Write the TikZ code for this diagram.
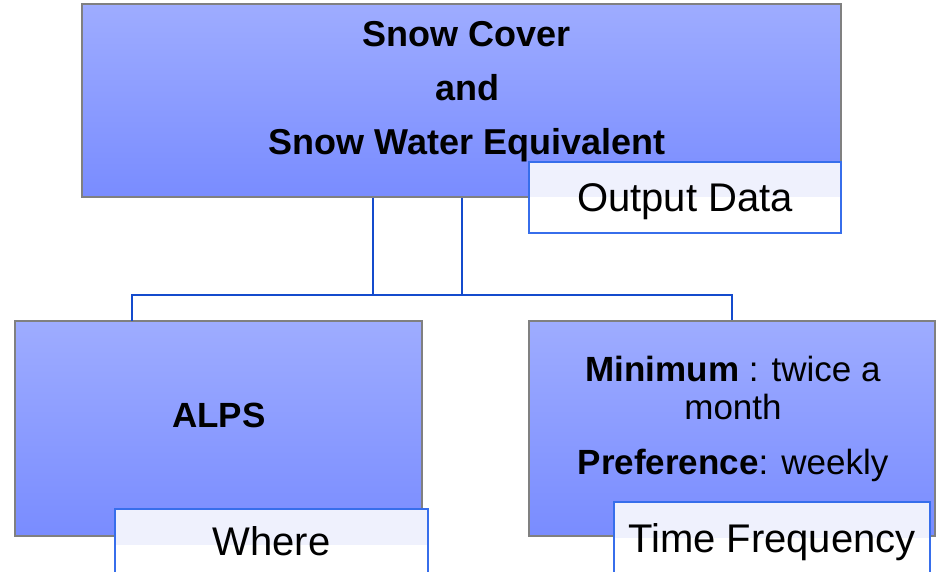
\documentclass[tikz,border=0pt]{standalone}
\usepackage{fontspec}
\setmainfont{Liberation Sans}
\definecolor{boxtop}{RGB}{158,172,255}
\definecolor{boxbot}{RGB}{121,140,255}
\definecolor{linkblue}{RGB}{20,75,205}
\definecolor{tagblue}{RGB}{55,110,235}
\definecolor{taglight}{RGB}{239,241,253}
\tikzset{x=1pt, y=1pt,
	mainbox/.style={draw=gray, line width=1.2pt, top color=boxtop, bottom color=boxbot, minimum width=#1, minimum height=215pt, inner sep=0pt},
	tagbox/.style={draw=tagblue, line width=1.2pt, fill=white, minimum width=#1, minimum height=71pt, inner sep=0pt,
		text height=29pt, text depth=0pt,
		path picture={\fill[taglight] (path picture bounding box.north west) rectangle (path picture bounding box.east);},
		font=\fontsize{40}{40}\selectfont},
	link/.style={draw=linkblue, line width=2.5pt},
	bigtxt/.style={font=\fontsize{35}{38}\selectfont, align=center}
}

\begin{document}
\begin{tikzpicture}
		\useasboundingbox (0,0) rectangle (936,571);
		% output
		\node[mainbox=759pt, minimum height=193pt] (top) at (461.5,470.5) {};
		\node[bigtxt, font=\fontsize{36}{54}\selectfont\bfseries] (topTxt) at (467,479) {Snow Cover\\and\\Snow Water Equivalent};
		\node[tagbox=312pt] (outTag) at (685,373.5) {Output Data};
		% where / when
		\node[mainbox=407pt] (left) at (218.5,142.5) {};
		\node[bigtxt, font=\fontsize{35}{38}\selectfont\bfseries] (leftTxt) at (219,156) {ALPS};
		\node[tagbox=313pt, text depth=8pt] (whereTag) at (271.5,26.5) {Where};
		\node[mainbox=406pt] (right) at (732,142.5) {};
		\node[bigtxt] (rightTxt) at (733,152.5) {\textbf{Minimum} : twice a\\month\\[17pt]\textbf{Preference}: weekly};
		\node[tagbox=316pt] (freqTag) at (772,33.5) {Time Frequency};
		% links
		\coordinate (jl) at (373,276);
		\coordinate (jr) at (462,276);
		\coordinate (dropL) at (132,250);
		\draw[link] (top.south -| jl)--(jl)-|(dropL);
		\draw[link] (top.south -| jr)--(jr)-|(right.north);
		\draw[link] (jl)--(jr);
		\end{tikzpicture}
\end{document}
